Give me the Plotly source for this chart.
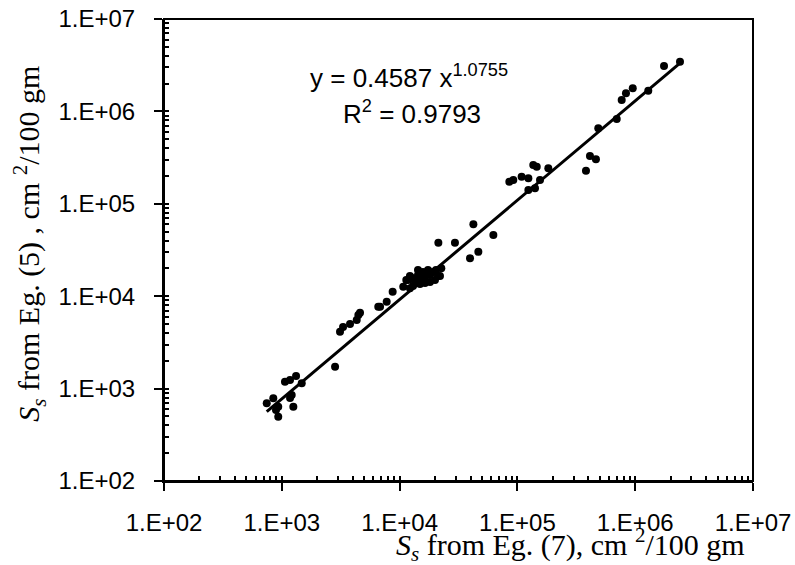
import numpy as np
import plotly.graph_objects as go

# S_s from Eq. (7) (x) vs S_s from Eq. (5) (y), cm^2/100 gm
ss_eq7 = [745, 847, 933, 933, 893, 1064, 1174, 1321, 1213, 1253, 1476, 1175,
          2832, 3120, 3310, 3795, 4325, 4467, 4613, 6590, 6823, 7770,
          8730, 10740, 11400, 12240, 11790, 12730, 13520, 14330, 14890, 15800,
          16430, 17420, 18110, 19220, 20370, 21170, 13000, 14890, 16430, 18110,
          19970, 14330, 12240, 22600, 22020,
          21330, 29500, 39600, 46600, 42300, 62500,
          85400, 92300, 108600, 123900, 136400, 145900, 155600, 141000, 123900,
          183000, 382000, 413000, 464000, 486000, 697000, 768000, 835000,
          953000, 1291000, 1757000, 2400000]
ss_eq5 = [693, 785, 637, 497, 586, 1188, 1240, 1368, 853, 637, 1140, 790,
          1726, 4130, 4650, 5000, 5525, 6266, 6620, 7690, 7690, 8710,
          11190, 12680, 14980, 12160, 14980, 15730, 14250, 16950, 15350, 18260,
          16130, 19220, 16950, 18260, 19220, 16540, 12880, 13540, 13890, 14250,
          14980, 19220, 16540, 20100, 16540,
          37930, 37930, 25700, 30200, 60000, 45900,
          173400, 181200, 196300, 188800, 263000, 252300, 181200, 147300, 141000,
          242000, 228000, 329000, 303000, 656000, 828000, 1328000, 1570000,
          1778000, 1675000, 3100000, 3450000]

# power trendline printed on the chart
fit_a = 0.4587
fit_b = 1.0755
fit_r2 = 0.9793

tick_vals = [1e2, 1e3, 1e4, 1e5, 1e6, 1e7]
tick_text = ["1.E+02", "1.E+03", "1.E+04", "1.E+05", "1.E+06", "1.E+07"]

fit_x = np.array([min(ss_eq7), max(ss_eq7)], dtype=float)
fit_y = fit_a * fit_x ** fit_b

fig = go.Figure()
fig.add_trace(go.Scatter(x=ss_eq7, y=ss_eq5, mode="markers",
                         marker=dict(color="black", size=8), showlegend=False))
fig.add_trace(go.Scatter(x=fit_x, y=fit_y, mode="lines",
                         line=dict(color="black", width=3), showlegend=False))

axis_common = dict(
    type="log", range=[2, 7], tickvals=tick_vals, ticktext=tick_text,
    ticks="outside", ticklen=8, tickwidth=2, tickcolor="black",
    showline=True, linecolor="black", linewidth=2, mirror=False,
    showgrid=False, zeroline=False, automargin=False,
    ticklabeloverflow="allow",
    tickfont=dict(family="Liberation Sans, Arial", size=24, color="black"),
    minor=dict(ticks="inside", ticklen=5, tickwidth=2, tickcolor="black",
               dtick="D1", showgrid=False),
)

fig.update_xaxes(**axis_common, ticklabelstandoff=11)
fig.update_yaxes(**axis_common, ticklabelstandoff=14)

# frame on top and right (no ticks there)
fig.add_shape(type="rect", xref="paper", yref="paper", x0=0, y0=0, x1=1, y1=1,
              line=dict(color="black", width=2))

serif = dict(family="Liberation Serif, Times New Roman", size=30, color="black")
fig.add_annotation(xref="paper", yref="paper", x=-0.228, y=0.513,
                   xanchor="center", yanchor="middle",
                   text="<i>S<sub>s</sub></i> from Eg. (5) , cm <sup>2</sup>/100 gm",
                   textangle=-90, showarrow=False, font=serif)
fig.add_annotation(xref="paper", yref="paper", x=0.691, y=-0.138,
                   xanchor="center", yanchor="middle",
                   text="<i>S<sub>s</sub></i> from Eg. (7), cm <sup>2</sup>/100 gm",
                   showarrow=False, font=serif)

eq_font = dict(family="Liberation Sans, Arial", size=26, color="black")
fig.add_annotation(xref="paper", yref="paper", x=0.416, y=0.875,
                   xanchor="center", yanchor="middle",
                   text=f"y = {fit_a:.4f} x<sup>{fit_b:.4f}</sup>",
                   showarrow=False, font=eq_font)
fig.add_annotation(xref="paper", yref="paper", x=0.421, y=0.797,
                   xanchor="center", yanchor="middle",
                   text=f"R<sup>2</sup> = {fit_r2:.4f}",
                   showarrow=False, font=eq_font)

fig.update_layout(
    width=795, height=565,
    margin=dict(l=164, r=42, t=19, b=84, autoexpand=False),
    plot_bgcolor="white", paper_bgcolor="white",
)

# drop the default 8px body margin so the figure fills the window
fig.write_html("out.html", config={"displayModeBar": False},
               post_script="document.body.style.margin='0';")
